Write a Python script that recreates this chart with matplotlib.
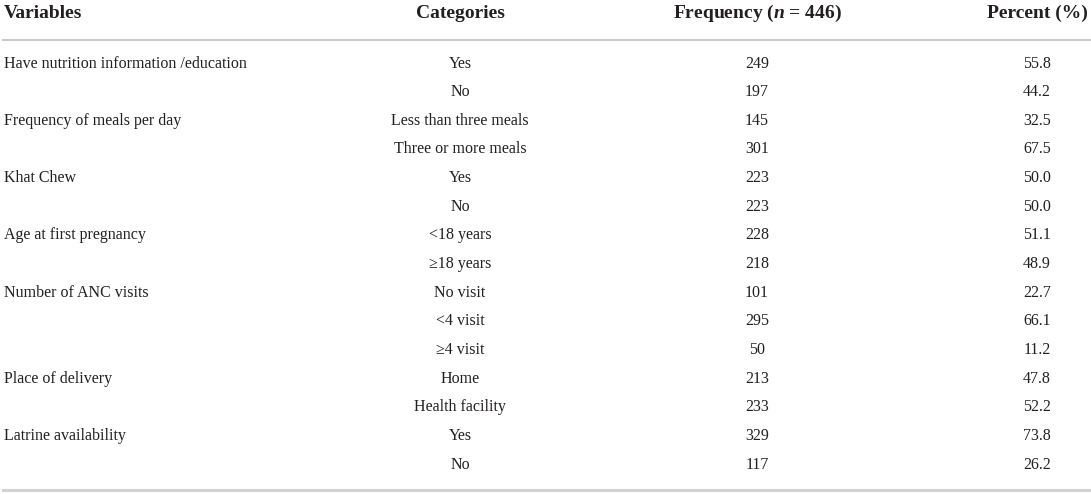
import matplotlib.pyplot as plt

plt.rcParams["font.family"] = ["Liberation Serif", "DejaVu Serif"]
plt.rcParams["mathtext.fontset"] = "custom"
plt.rcParams["mathtext.rm"] = "Liberation Serif:bold"
plt.rcParams["mathtext.it"] = "Liberation Serif:italic:bold"

headers = ["Variables", "Categories", "Frequency ($n$ = 446)", "Percent (%)"]

variables = [
    "Have nutrition information /education", "",
    "Frequency of meals per day", "",
    "Khat Chew", "",
    "Age at first pregnancy", "",
    "Number of ANC visits", "", "",
    "Place of delivery", "",
    "Latrine availability", "",
]
categories = [
    "Yes", "No",
    "Less than three meals", "Three or more meals",
    "Yes", "No",
    "<18 years", "\u226518 years",
    "No visit", "<4 visit", "\u22654 visit",
    "Home", "Health facility",
    "Yes", "No",
]
frequency = [249, 197, 145, 301, 223, 223, 228, 218, 101, 295, 50, 213, 233, 329, 117]
percent = [55.8, 44.2, 32.5, 67.5, 50.0, 50.0, 51.1, 48.9, 22.7, 66.1, 11.2, 47.8, 52.2, 73.8, 26.2]


def main():
    width, height = 1091, 494
    fig = plt.figure(figsize=(width / 100, height / 100), dpi=100)
    ax = fig.add_axes([0, 0, 1, 1])
    ax.set_xlim(0, width)
    ax.set_ylim(height, 0)
    ax.axis("off")

    col_x = [4, 460, 757, 1037]
    col_ha = ["left", "center", "center", "center"]
    text_color = "#231f20"

    for x, ha, label in zip(col_x, col_ha, headers):
        ax.text(x, 13, label, ha=ha, va="center", fontsize=14,
                fontweight="bold", color=text_color)

    # rules under the header and at the bottom of the table
    ax.plot([3, width], [40, 40], color="#cccccc", lw=1.5)
    ax.plot([3, width], [490, 490], color="#d2d2d2", lw=2.2)

    row_y0, row_step = 63.5, 28.65
    for i in range(len(categories)):
        y = row_y0 + i * row_step
        cells = [variables[i], categories[i], str(frequency[i]), f"{percent[i]:.1f}"]
        for x, ha, cell in zip(col_x, col_ha, cells):
            ax.text(x, y, cell, ha=ha, va="center", fontsize=11.5, color=text_color)

    fig.savefig("out.png", dpi=100)
    plt.close(fig)


if __name__ == "__main__":
    main()
